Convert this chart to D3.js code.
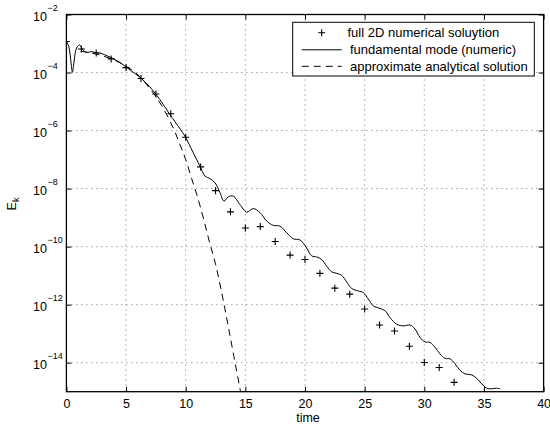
<!DOCTYPE html>
<html>
<head>
<meta charset="utf-8">
<script src="https://cdn.jsdelivr.net/npm/d3@7"></script>
<style>
  body { margin: 0; background: #fff; }
  svg { display: block; font-family: "Liberation Sans", Arial, Helvetica, sans-serif; }
</style>
</head>
<body>
<div id="vis"></div>
<script>
// set constants
const FRAME_WIDTH = 550;
const FRAME_HEIGHT = 428;
const PLOT = {left: 66.4, right: 543.6, top: 14.5, bottom: 391.7};

// full 2D numerical solution (crosses)
const crossTime = [0, 1.25, 2.5, 3.75, 5, 6.25, 7.5, 8.75, 10, 11.25, 12.5, 13.75, 15, 16.25,
  17.5, 18.75, 20, 21.25, 22.5, 23.75, 25, 26.25, 27.5, 28.75, 30, 31.25, 32.5];
const crossEnergy = [1.17e-3, 6.5e-4, 4.7e-4, 2.95e-4, 1.48e-4, 6.2e-5, 1.82e-5, 3.8e-6, 5.9e-7,
  5.6e-8, 8.5e-9, 1.58e-9, 4.4e-10, 4.9e-10, 1.51e-10, 5.1e-11, 3.6e-11, 1.2e-11, 3.7e-12,
  2.3e-12, 7.1e-13, 2.0e-13, 1.23e-13, 3.7e-14, 1.02e-14, 6.8e-15, 2.1e-15];

// fundamental mode (numeric), solid line
const modeTime = [0, 0.2, 0.4, 0.5, 0.62, 0.75, 0.9, 1.1, 1.42, 1.7, 2.1, 2.4, 2.8, 3.65, 4.5,
  5.33, 6.17, 7.0, 7.85, 8.68, 9.52, 9.94, 10.64, 11.2, 11.62, 12.04, 12.46, 12.88, 13.21,
  13.57, 13.99, 14.55, 15.11, 15.67, 16.23, 16.79, 17.34, 17.9, 18.47, 19.02, 19.58, 20.14,
  20.56, 20.98, 21.4, 21.82, 22.24, 22.66, 23.08, 23.5, 23.92, 24.47, 24.89, 25.31, 25.73,
  26.29, 26.71, 27.12, 27.69, 28.3, 28.8, 29.22, 29.64, 30.06, 30.48, 30.9, 31.32, 31.74,
  32.16, 32.58, 33.0, 33.42, 33.97, 34.39, 34.81, 35.23, 35.65, 36.07, 36.35];
const modeEnergy = [1.17e-3, 7.9e-4, 2.0e-4, 1.02e-4, 2.0e-4, 5.0e-4, 7.6e-4, 8.9e-4, 5.75e-4,
  4.9e-4, 5.25e-4, 4.9e-4, 4.7e-4, 3.4e-4, 2.2e-4, 1.23e-4, 6.8e-5, 3.2e-5, 1.15e-5, 3.55e-6,
  1.15e-6, 6.3e-7, 1.7e-7, 5.9e-8, 2.7e-8, 2.2e-8, 1.58e-8, 7.2e-9, 3.7e-9, 5.2e-9, 5.5e-9,
  2.8e-9, 1.55e-9, 2.05e-9, 1.48e-9, 7.6e-10, 5.4e-10, 5.1e-10, 3.0e-10, 1.86e-10, 1.7e-10,
  9.0e-11, 4.8e-11, 4.4e-11, 3.6e-11, 2.1e-11, 1.35e-11, 1.2e-11, 1.02e-11, 6.0e-12, 3.6e-12,
  2.95e-12, 2.6e-12, 1.55e-12, 9.1e-13, 7.4e-13, 6.2e-13, 3.6e-13, 2.1e-13, 1.86e-13, 2.0e-13,
  1.45e-13, 7.4e-14, 5.2e-14, 5.0e-14, 3.4e-14, 2.0e-14, 1.41e-14, 1.35e-14, 9.1e-15, 5.4e-15,
  4.1e-15, 3.8e-15, 2.9e-15, 1.86e-15, 1.32e-15, 1.26e-15, 1.32e-15, 1.26e-15];

// approximate analytical solution, dashed line
const approxTime = [1.2, 2, 3, 4, 5, 6, 7, 8, 9, 9.5, 10, 10.5, 11, 11.5, 12, 12.5, 13, 13.5, 14, 14.6];
const approxEnergy = [5.4e-4, 4.8e-4, 3.8e-4, 2.7e-4, 1.66e-4, 8.3e-5, 2.8e-5, 7.1e-6, 1.12e-6,
  3.4e-7, 1.0e-7, 2.2e-8, 5.0e-9, 8.9e-10, 1.41e-10, 2.5e-11, 2.8e-12, 2.5e-13, 2.0e-14, 1.0e-15];

// tick labels
const xTicks = [0, 5, 10, 15, 20, 25, 30, 35, 40];
const yTickExps = [-2, -4, -6, -8, -10, -12, -14];
const legendLabels = ["full 2D numerical soluytion", "fundamental mode (numeric)", "approximate analytical solution"];

const yTicks = yTickExps.map((e) => Math.pow(10, e));

const FRAME = d3.select("#vis")
  .append("svg")
    .attr("width", FRAME_WIDTH)
    .attr("height", FRAME_HEIGHT);

const X_SCALE = d3.scaleLinear().domain([0, 40]).range([PLOT.left, PLOT.right]);
const Y_SCALE = d3.scaleLog().domain([1e-15, 1e-2]).range([PLOT.bottom, PLOT.top]);

// grid
const grid = FRAME.append("g")
  .attr("stroke", "#555")
  .attr("stroke-width", 0.8)
  .attr("stroke-dasharray", "1,4");
grid.selectAll(".vgrid")
  .data(xTicks.slice(1, -1))
  .enter()
  .append("line")
    .attr("x1", (d) => X_SCALE(d))
    .attr("x2", (d) => X_SCALE(d))
    .attr("y1", PLOT.top)
    .attr("y2", PLOT.bottom);
grid.selectAll(".hgrid")
  .data(yTicks.slice(1))
  .enter()
  .append("line")
    .attr("y1", (d) => Y_SCALE(d))
    .attr("y2", (d) => Y_SCALE(d))
    .attr("x1", PLOT.left)
    .attr("x2", PLOT.right);

// clip for curves
FRAME.append("clipPath").attr("id", "clip")
  .append("rect")
    .attr("x", PLOT.left)
    .attr("y", PLOT.top)
    .attr("width", PLOT.right - PLOT.left)
    .attr("height", PLOT.bottom - PLOT.top);

const line = d3.line()
  .x((d) => X_SCALE(d[0]))
  .y((d) => Y_SCALE(d[1]))
  .curve(d3.curveCatmullRom.alpha(0.5));

const curves = FRAME.append("g").attr("clip-path", "url(#clip)");

// dashed approximate solution
curves.append("path")
  .datum(d3.zip(approxTime, approxEnergy))
  .attr("d", line)
  .attr("fill", "none")
  .attr("stroke", "#000")
  .attr("stroke-width", 1)
  .attr("stroke-dasharray", "7,5");

// solid fundamental mode
curves.append("path")
  .datum(d3.zip(modeTime, modeEnergy))
  .attr("d", line)
  .attr("fill", "none")
  .attr("stroke", "#000")
  .attr("stroke-width", 1);

// crosses
const PLUS = "M-3.5,0H3.5M0,-3.5V3.5";
curves.selectAll(".cross")
  .data(d3.zip(crossTime, crossEnergy))
  .enter()
  .append("path")
    .attr("transform", (d) => "translate(" + X_SCALE(d[0]) + "," + Y_SCALE(d[1]) + ")")
    .attr("d", PLUS)
    .attr("stroke", "#000")
    .attr("stroke-width", 1.1)
    .attr("fill", "none");

// axes (ticks inward)
FRAME.append("g")
  .attr("transform", "translate(0," + PLOT.bottom + ")")
  .call(d3.axisBottom(X_SCALE).tickValues(xTicks).tickSizeInner(-5).tickSizeOuter(0).tickPadding(7))
  .call((g) => g.select(".domain").remove())
  .call((g) => g.selectAll("text").attr("font-size", "12.5px").attr("font-family", null));

FRAME.append("g")
  .attr("transform", "translate(0," + PLOT.top + ")")
  .call(d3.axisTop(X_SCALE).tickValues(xTicks).tickSizeInner(-5).tickSizeOuter(0).tickFormat(""))
  .call((g) => g.select(".domain").remove());

FRAME.append("g")
  .attr("transform", "translate(" + PLOT.left + ",0)")
  .call(d3.axisLeft(Y_SCALE).tickValues(yTicks).tickSizeInner(-5).tickSizeOuter(0).tickFormat(""))
  .call((g) => g.select(".domain").remove());

FRAME.append("g")
  .attr("transform", "translate(" + PLOT.right + ",0)")
  .call(d3.axisRight(Y_SCALE).tickValues(yTicks).tickSizeInner(-5).tickSizeOuter(0).tickFormat(""))
  .call((g) => g.select(".domain").remove());

// y tick labels as 10^n
yTickExps.forEach((e) => {
  const yy = Y_SCALE(Math.pow(10, e));
  FRAME.append("text")
    .attr("x", 47)
    .attr("y", yy + 6.5)
    .attr("text-anchor", "end")
    .style("font-size", "12.5px")
    .text("10");
  FRAME.append("text")
    .attr("x", 47.5)
    .attr("y", yy - 3.5)
    .style("font-size", "9px")
    .text("\u2212" + (-e));
});

// box
FRAME.append("rect")
  .attr("x", PLOT.left)
  .attr("y", PLOT.top)
  .attr("width", PLOT.right - PLOT.left)
  .attr("height", PLOT.bottom - PLOT.top)
  .attr("fill", "none")
  .attr("stroke", "#000")
  .attr("stroke-width", 1.3);

// X label
FRAME.append("text")
  .attr("x", (PLOT.left + PLOT.right) / 2 + 3)
  .attr("y", 422)
  .attr("text-anchor", "middle")
  .style("font-size", "12.5px")
  .text("time");

// Y label
const yLab = FRAME.append("text")
  .attr("transform", "translate(15.5,204) rotate(-90)")
  .attr("text-anchor", "middle")
  .style("font-size", "12.5px");
yLab.append("tspan").text("E");
yLab.append("tspan").attr("dy", 3.5).style("font-size", "9px").text("k");

// legend
const LEG = {x: 292.7, y: 22.3, w: 241.6, h: 53.7};
const legend = FRAME.append("g");
legend.append("rect")
  .attr("x", LEG.x)
  .attr("y", LEG.y)
  .attr("width", LEG.w)
  .attr("height", LEG.h)
  .attr("fill", "#fff")
  .attr("stroke", "#000")
  .attr("stroke-width", 1);

const rowY = [32.7, 49.8, 66.3];
legend.append("path")
  .attr("transform", "translate(321.7," + rowY[0] + ")")
  .attr("d", PLUS)
  .attr("stroke", "#000")
  .attr("stroke-width", 1.1);
legend.append("line")
  .attr("x1", 301.7).attr("x2", 341.7)
  .attr("y1", rowY[1]).attr("y2", rowY[1])
  .attr("stroke", "#000");
legend.append("line")
  .attr("x1", 301.7).attr("x2", 341.7)
  .attr("y1", rowY[2]).attr("y2", rowY[2])
  .attr("stroke", "#000")
  .attr("stroke-dasharray", "7,5");

legend.selectAll(".legtext")
  .data(legendLabels)
  .enter()
  .append("text")
    .attr("x", (d, i) => i === 0 ? 347.5 : 350)
    .attr("y", (d, i) => rowY[i] + 4.5)
    .style("font-size", "13px")
    .text((d) => d);
</script>
</body>
</html>
